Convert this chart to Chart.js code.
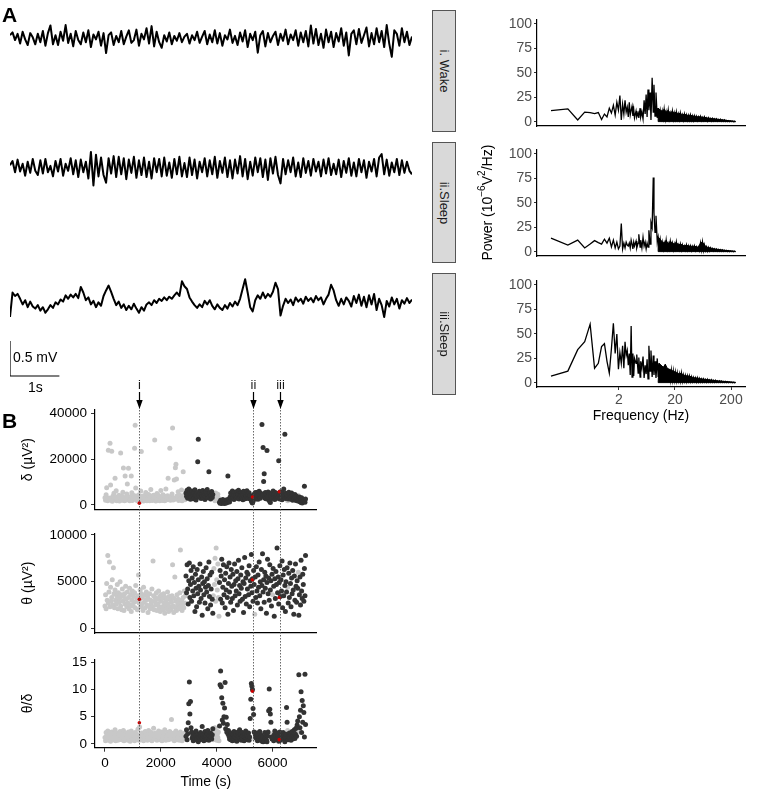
<!DOCTYPE html>
<html><head><meta charset="utf-8">
<script src="https://cdn.jsdelivr.net/npm/chart.js@4.4.1/dist/chart.umd.min.js"></script>
<style>
html,body{margin:0;padding:0;background:#fff;}
#root{position:relative;width:775px;height:791px;overflow:hidden;font-family:'Liberation Sans',Arial,Helvetica,sans-serif;color:#000;}
canvas{position:absolute;}
.lbl{position:absolute;white-space:nowrap;line-height:1;}
.strip{position:absolute;background:#d9d9d9;border:1px solid #555;box-sizing:border-box;}
.strip span{position:absolute;left:50%;top:50%;transform:translate(-50%,-50%) rotate(90deg);font-size:13px;color:#1a1a1a;white-space:nowrap;line-height:1;}
</style></head><body><div id="root"></div>
<script>
// ---------------- DATA ----------------
// EEG traces (µV), 160 decimated samples over ~8.2 s
const TRACE_DT = 0.0512; // s per sample
const traceWake = [40,80,-30,60,-80,90,-20,-100,70,10,
-90,60,-60,100,-110,70,180,-90,40,-100,
90,-40,185,-70,60,-120,100,-30,-90,80,
-60,110,-130,50,-20,90,-110,70,-215,40,
80,-100,30,-60,100,-90,20,110,-70,-30,
120,-110,60,-20,140,-80,170,-120,90,-60,
-140,40,-50,80,-90,30,-40,70,-60,20,
60,-80,40,-30,90,-70,20,100,-90,50,
-60,110,-80,70,-110,40,-20,120,-70,30,
-100,80,-50,110,-130,60,-30,90,-210,40,
100,-120,70,-60,30,90,-100,60,-40,120,
-90,50,-30,110,-110,80,-60,100,-120,180,
-80,130,-100,60,-140,120,-60,90,-130,70,
-50,140,-110,80,-250,60,110,-90,130,-70,
40,150,-120,70,-90,140,-60,100,-130,185,
-80,-270,110,60,-110,140,-60,90,-100,20];
const traceSleep2 = [40,100,-60,120,-50,60,-110,90,-70,130,
-40,-100,110,-80,130,-60,30,-120,100,-50,
130,-110,60,-40,140,-90,110,-130,120,-60,
90,-150,230,-250,190,-120,150,-100,-210,140,
-80,170,-130,160,-90,140,-160,120,-70,160,
-140,110,-100,150,-130,90,-150,140,-60,130,
-120,150,-110,80,-140,130,-90,160,-120,70,
-130,150,-100,120,-150,90,-60,140,-120,110,
-90,160,-140,100,-70,150,-130,110,-150,120,
-80,170,-120,130,-160,90,-110,150,-60,140,
-130,120,-170,140,-80,160,-100,-220,130,-90,
110,-60,150,-120,80,-130,140,-70,100,-110,
130,-50,90,-120,120,-80,140,-100,60,-90,
120,-130,100,-70,140,-110,80,-120,130,-60,
110,-140,90,-50,130,-120,150,200,-90,120,
-110,80,-60,130,-100,110,-70,90,-40,-90];
const traceSleep3 = [-200,150,100,130,60,-20,40,-60,20,-50,
-80,-30,-110,-60,-140,-90,-30,-70,10,-20,
50,20,110,60,120,80,130,70,230,150,
40,80,-20,30,-60,10,-40,100,180,250,
160,60,-30,20,-70,-20,-100,-40,-90,-10,
-80,-140,-60,-110,-20,10,-30,40,0,60,
30,80,40,90,60,110,150,100,310,240,
200,80,20,-30,-70,-20,-60,30,-20,40,
-40,-90,-20,-70,-100,-30,-80,0,-50,20,
-30,60,200,340,150,-60,-120,40,110,60,
150,70,130,90,160,290,200,-180,-40,60,
0,50,-30,80,20,60,-10,90,30,70,
10,100,40,80,-20,60,120,260,180,40,
-40,60,-20,80,30,-50,100,0,120,-40,
90,-60,110,-20,130,-100,60,-30,-200,30,
-50,80,-20,60,-80,40,-10,70,0,50];
const scaleBarMv = 0.5, scaleBarS = 1;
const stripLabels = ['i. Wake','ii.Sleep','iii.Sleep'];

// Power spectra: FFT bins (resolution FREQ_RES Hz) and power (10^-6 V^2/Hz)
const FREQ_RES = 0.1221;
const freqBins = [1,2,3,4,5,6,7,8,9,10,11,12,13,14,15,16,17,18,19,20,21,22,23,24,
25,26,27,28,29,30,31,33,34,36,37,39,40,42,44,46,48,50,52,54,
56,59,61,64,67,69,72,75,79,82,85,89,93,97,101,105,110,114,119,124,
129,135,141,147,153,159,166,173,180,188,196,204,213,222,231,241,251,262,273,284,
296,309,322,335,349,364,380,396,412,430,448,467,486,507,528,550,573,598,623,649,
676,705,734,765,797,831,866,902,940,980,1021,1064,1108,1155,1203,1254,1307,1361,1419,1478,
1540,1605,1672,1742,1815,1891,1971];
const powerWake = [11.5,13.3,2,10,9.5,8.5,9.5,2.5,8,5,14,9,17,7,20,12,27,2,18,8,22,10,15,5,
20,7,12,16,6,13,4,11,5,9,
4,14,5,10,3,22,8,28,5,33,
12,30,2,45,10,38,6,30,4,14,
5,12,4,11,4,13,3,10,4,12,
3,9,4,11,3,9,3,10,3,8,
2.5,9,3,7,2,8,2.5,7,2,6.5,
2,7,2,6,1.5,6,2,5.5,1.5,5,
2,5.5,1.5,4.5,1.5,5,1.5,4,1,4,
1.5,3.5,1,3.5,1,3,1,3,0.8,2.5,
0.8,2.5,0.6,2,0.5,2,0.5,1.5,0.4,1.3,
0.3,1,0.3,0.8,0.2,0.6,0.3];
const powerSleep2 = [14,7,12,4,8,11.5,9.5,8,13,9,14,5,12,4,10,3,6,29,3,9,4,10,7,6,
9,4,12,8,3,10,6,11,4,9,
18,5,12,4,15,6,10,3,9,5,
22,8,30,25,76,40,20,37,10,15,
6,13,4,10,3,9,4,12,3,8,
3,11,4,9,2.5,8,3,10,3,7,
2.5,8,2,7,3,6,2,7,2,6,
2,6,1.5,5.5,2,6,1.5,5,2,5,
1.5,9,2,10,1.5,7,1.5,5,1,4.5,
1,4,1.5,3.5,1,3,1,2.8,0.8,2.5,
0.7,2.2,0.6,2,0.5,1.6,0.5,1.5,0.4,1.2,
0.3,1,0.3,0.8,0.2,0.7,0.3];
const powerSleep3 = [7,12,34,42,60,15,20,37,40,22,10,35,61,30,50,14,31,20,38,15,42,28,33,18,
30,8,58,6,30,7,25,20,29,10,
26,6,22,15,27,5,18,9,24,4,
38,12,33,6,28,8,22,5,25,6,
20,4,18,5,16,4,19,3,15,4,
14,3,13,3,12,3,11,2.5,10,2.5,
9,2,10,2,8,2,7.5,1.5,7,2,
7,1.5,6,1.5,5.5,1.5,5,1,5,1,
4.5,1,4,1,4,1,3.5,0.8,3.5,0.8,
3,0.8,3,0.7,2.5,0.6,2.5,0.6,2,0.5,
2,0.5,1.8,0.4,1.5,0.4,1.5,0.3,1.2,0.3,
1,0.3,0.8,0.2,0.7,0.2,0.5];
const denseFromBin = 82; // above ~10 Hz the FFT bins are so dense that the trace merges into a solid band
const freqTicks = [2,20,200];
const powerTicks = [0,25,50,75,100];

// Panel B: 20-s epochs (index i -> time i*EPOCH_S)
const EPOCH_S = 20;
const wakeRanges = [[0,144],[194,204],[268,268],[300,300],[327,327],[346,346]];
const deltaPower = [3200,2100,4500,7500,2600,1800,23900,3100,2400,26900,
8700,2900,23500,1600,3800,2200,5100,2700,11700,3300,
6200,1900,2800,3600,2300,4200,1700,3000,22700,2500,
3900,2100,5600,16100,2600,1800,12600,3400,2200,4800,
9200,2700,16000,3100,1900,3600,2400,12600,5300,2000,
3300,2800,4100,24800,34800,7400,2300,3700,1800,2900,
4400,2600,1500,3200,6100,23300,2100,3800,2500,1700,
4000,2900,2200,5500,3100,1900,3500,2700,4600,2300,
1800,3300,6800,2600,3900,2000,3000,4300,2400,28300,
3200,1700,2800,5000,3600,2200,4100,2500,1900,3400,
6300,2700,3100,2000,4500,2600,3800,1800,2900,7000,
3500,2300,4000,11700,2800,3300,24800,2100,3700,2600,
4800,33600,2200,3100,10900,2500,16200,17800,11300,3900,
2700,5800,2000,3400,4200,2400,3000,6500,1900,3600,
14500,2800,4400,2300,3200,
5200,3800,6400,2900,4600,7000,3400,5800,2500,4300,
6100,3600,4900,2700,5500,3100,6600,4000,2200,5000,
3700,18900,28700,4400,6000,3300,5300,2800,4700,3900,
6300,3000,5100,4200,2400,5700,3500,4800,6800,3200,
4500,14500,3800,5400,2600,4100,5900,3300,4600,
2600,4300,3400,1900,5200,2800,3700,2200,4700,3100,2500,
1200,800,2100,1500,600,1800,2400,1000,1400,700,2000,1600,900,2300,1100,12700,1700,2600,1300,
3500,5200,2800,4600,6100,3100,4900,2400,5600,3800,
4200,2900,5900,3300,4700,6400,2600,5000,3600,4400,
5500,3000,4800,2300,6000,3400,5200,2700,4500,3900,
6200,3200,4600,2800,5300,3700,4100,2500,1800,1200,
900,1500,3900,4700,3100,5500,2600,
4800,3300,5600,2500,4200,6000,3600,2900,5100,3800,
35100,4400,25100,10200,13600,3000,5400,2700,4600,23800,
3500,5700,2200,4900,1500,1100,3900,5200,2800,4300,
6100,3200,4700,2400,5500,3600,4100,2900,5000,3400,
19300,4500,2600,5800,3100,4800,2300,5300,3700,7000,
4200,30900,2800,5100,3500,4400,1800,2600,5600,3000,
4700,3300,2500,5200,3900,2100,4300,3100,2700,4600,
3400,2000,3800,2900,1700,4100,2400,3500,1400,2800,
1100,3200,900,2200,1500,1900,8200,1200,2600];
const thetaPower = [2400,3600,2100,4800,3000,7800,2700,3900,7100,2300,
4400,2900,3300,5200,2500,6500,3700,2200,4100,3000,
2600,3500,4700,2100,3800,2800,3200,5000,2400,3600,
2000,4200,2900,3400,1900,3700,2600,4500,3100,2300,
3900,2700,3300,2100,4300,2500,3600,1800,3000,4000,
2400,3400,2800,3800,2200,4600,2900,3200,2000,3500,
5700,2700,3100,4100,2300,3700,2600,3300,1900,4400,
2800,3600,2200,3000,3900,2500,3400,1700,3100,2400,
3700,2100,3000,2700,4200,2300,7200,3500,2000,2900,
3300,2500,3800,1900,3100,2600,4000,2200,3400,1800,
2900,3600,2300,3200,2000,3700,2700,1600,3300,2400,
3000,2100,3900,2600,1800,3400,2300,3100,2000,2800,
3500,6800,2400,1700,3200,5500,2200,2900,1900,3600,
2500,3100,2100,2700,3800,8400,2300,3000,1900,2600,
3300,2200,4000,2700,3500,
5600,3800,6800,4200,2600,5100,7000,3300,4700,6200,
2900,5400,4000,6600,3500,4900,1800,5800,4300,2300,
6300,3700,5200,4500,2800,6900,4100,3200,5500,1400,
4800,6100,3600,5000,2700,4400,6500,3900,5300,2100,
4600,7100,3400,5700,2500,4200,6000,3100,1600,
3500,6400,4700,7500,2900,8600,5200,4100,6900,3300,1300,
4900,6200,3100,5600,7400,2700,4400,6800,3600,5200,
2200,5900,4100,6600,3300,1500,4800,7000,3900,5500,
2800,6300,4500,3200,5800,1900,4700,6900,3500,5100,
4000,6100,2500,5300,7300,3700,4600,2900,5700,4300,
6500,3100,5000,1700,4800,7600,3400,5400,2600,6000,
4200,5800,3600,6700,2300,5100,4500,7900,3800,5300,
2900,6200,4700,1500,5500,3300,6600,4000,2700,5700,
4400,7100,3500,5000,2100,6300,4600,8000,3900,5200,
2800,6000,4300,5600,1600,4900,7400,3700,5400,3000,
6800,4100,5100,2400,5800,3600,6400,4500,1300,5300,
3200,6100,4700,8600,3800,5500,2600,4900,6700,3400,
5200,4000,7200,2200,5700,3500,6300,4600,1800,5000,
3900,6500,4400,2700,5900,3300,7000,4800,2300,5400,
3700,6200,4100,1500,5600,3000,6900,4500,2800,5100,
4300,6000,1400,3600,5500,2500,7300,4000,3200,5800,
4700,2900,6400,3500,7800];
const thetaDeltaRatio = [1.2,0.6,2.1,1.5,0.9,2.4,1.3,0.7,1.8,1.1,
0.5,1.6,2.2,1.0,1.4,0.8,1.9,1.2,2.6,0.6,
1.5,1.1,2.0,0.7,1.3,1.7,0.9,2.3,1.0,1.4,
0.8,1.8,1.2,2.5,0.6,1.5,1.1,2.0,0.9,1.6,
1.3,0.7,2.2,1.0,1.7,0.5,1.4,2.4,1.2,0.8,
1.9,1.1,1.5,0.6,2.1,1.3,0.9,1.8,1.0,2.7,
1.4,0.7,3.1,1.2,1.6,0.8,2.0,1.1,1.5,0.6,
1.8,1.3,2.3,0.9,1.4,1.9,0.7,1.2,2.5,1.0,
1.6,0.8,1.3,2.1,0.6,1.7,1.1,2.9,1.4,0.9,
2.0,1.2,1.5,0.7,1.8,1.0,2.4,1.3,0.8,1.6,
1.1,2.2,0.6,1.4,1.9,0.9,1.5,2.6,1.2,0.7,
1.7,1.0,2.1,1.3,0.8,1.6,2.3,1.1,1.4,4.5,
0.9,1.8,1.2,2.0,0.6,1.5,1.0,2.4,1.3,0.8,
1.6,1.1,1.9,0.7,1.4,2.2,1.0,1.5,0.6,1.3,
1.8,0.9,1.2,2.0,1.1,
1.4,2.6,0.8,1.9,3.9,7.4,11.4,5.5,7.8,3.0,
2.2,1.1,1.7,0.6,1.3,2.0,0.9,1.5,2.4,1.0,
0.7,1.6,0.4,1.2,1.8,0.8,2.1,1.4,0.9,3.2,
1.1,1.7,0.6,1.3,2.3,1.0,1.5,0.8,1.9,2.5,
1.2,0.7,1.6,1.0,2.0,1.3,0.9,1.7,2.8,
0.8,2.1,1.4,3.0,1.1,2.5,0.7,1.8,1.2,2.2,0.6,
3.3,10.9,13.4,10.5,8.5,4.4,7.5,3.8,5.0,6.6,
11.3,2.8,4.9,2.2,3.6,1.9,2.5,1.4,0.9,
1.5,0.8,2.0,1.2,0.6,1.7,1.0,2.3,1.3,0.7,
1.9,1.1,0.5,1.6,2.2,0.9,1.4,2.6,1.0,1.8,
0.7,1.3,2.1,0.9,1.5,0.6,1.9,1.2,2.4,1.0,
1.6,0.8,1.4,2.0,0.7,1.3,4.7,8.2,11.1,10.6,
10.0,6.5,5.4,2.2,0.9,1.7,1.2,
1.1,2.0,0.6,1.4,1.8,0.9,2.3,1.2,0.7,1.6,
0.5,1.3,0.4,0.6,0.5,2.1,1.0,1.7,0.8,0.4,
1.5,2.2,6.1,10.1,6.4,5.5,4.0,1.3,0.9,1.9,
1.2,0.6,1.7,2.4,1.0,1.4,0.8,2.0,1.3,1.6,
0.5,1.1,2.2,0.7,1.5,1.9,0.9,1.3,2.1,1.0,
1.6,0.4,1.2,1.8,6.7,4.0,2.5,0.8,1.4,2.0,
1.1,1.7,0.7,1.3,2.3,0.9,1.5,1.2,2.6,1.0,
1.8,2.9,1.4,3.5,4.2,2.2,12.7,5.0,3.0,6.2,
9.6,2.1,8.0,4.0,7.0,5.8,1.3,12.8,3.6];
// marked epochs i, ii, iii
const markTimes = [1230, 5280, 6240];
const markLabels = ['i','ii','iii'];
const markDelta = [800, 3500, 5800];
const markTheta = [3100, 5200, 3300];
const markRatio = [3.9, 9.7, 0.8];
const timeTicks = [0,2000,4000,6000];
const deltaTicks = [0,20000,40000];
const thetaTicks = [0,5000,10000];
const ratioTicks = [0,5,10,15];

// ---------------- RENDER ----------------
const FONT = "'Liberation Sans', Arial, Helvetica, sans-serif";
Chart.defaults.font.family = FONT;
Chart.defaults.font.size = 13;
Chart.defaults.animation = false;
Chart.defaults.events = [];
Chart.defaults.plugins.legend.display = false;
Chart.defaults.plugins.tooltip.enabled = false;

const root = document.getElementById('root');
function mkCanvas(l,t,w,h){
  const c=document.createElement('canvas');
  c.width=w; c.height=h;
  c.style.left=l+'px'; c.style.top=t+'px'; c.style.width=w+'px'; c.style.height=h+'px';
  root.appendChild(c); return c;
}
function addLabel(text, l, t, css){
  const d=document.createElement('div'); d.className='lbl'; d.textContent=text;
  d.style.left=l+'px'; d.style.top=t+'px'; Object.assign(d.style, css||{});
  root.appendChild(d); return d;
}

// --- traces ---
const TRACE_HALF = 515; // µV visible above/below centre
const traceMaxT = (traceWake.length-1)*TRACE_DT;
function traceChart(vals, centerY){
  const c = mkCanvas(5, centerY-36, 412, 72);
  new Chart(c,{type:'line',
    data:{datasets:[{data:vals.map((v,i)=>({x:i*TRACE_DT,y:v})),borderColor:'#000',borderWidth:2,pointRadius:0,tension:0,borderJoinStyle:'round'}]},
    options:{responsive:false,layout:{padding:{left:5,right:5,top:0,bottom:0}},
      scales:{x:{type:'linear',display:false,min:0,max:traceMaxT},y:{display:false,min:-TRACE_HALF,max:TRACE_HALF}}}});
}
traceChart(traceWake, 37.6);
traceChart(traceSleep2, 168.3);
traceChart(traceSleep3, 303.3);

// scale bar (same µV/px and s/px as traces)
(function(){
  const c = mkCanvas(5, 330, 412, 56);
  const uvPerPx = 2*TRACE_HALF/72;
  new Chart(c,{type:'line',
    data:{datasets:[{data:[{x:0,y:scaleBarMv*1000},{x:0,y:0},{x:scaleBarS,y:0}],borderColor:'#000',borderWidth:1.2,pointRadius:0,tension:0}]},
    options:{responsive:false,layout:{padding:{left:5,right:5,top:0,bottom:0}},
      scales:{x:{type:'linear',display:false,min:0,max:traceMaxT},y:{display:false,min:-10*uvPerPx,max:46*uvPerPx}}}});
})();
addLabel('0.5 mV', 13, 350, {fontSize:'14px'});
addLabel('1s', 28, 380, {fontSize:'14px'});

// panel labels
addLabel('A', 2, 4, {fontSize:'21px',fontWeight:'bold'});
addLabel('B', 2, 410, {fontSize:'21px',fontWeight:'bold'});

// strips
[10, 141.7, 273.4].forEach((top,k)=>{
  const s=document.createElement('div'); s.className='strip';
  s.style.left='432px'; s.style.top=top+'px'; s.style.width='23.5px'; s.style.height='121.7px';
  const sp=document.createElement('span'); sp.textContent=stripLabels[k]; s.appendChild(sp);
  root.appendChild(s);
});

// --- spectra ---
const richYTitle = {
  id:'richYTitle',
  afterDraw(chart, args, o){
    if(!o || !o.segments) return;
    const ctx=chart.ctx, ca=chart.chartArea, fs=o.size, sfs=fs*0.72;
    ctx.save();
    let total=0;
    const parts=o.segments.map(s=>{ctx.font=(s.sup?sfs:fs)+'px '+FONT; const w=ctx.measureText(s.t).width; total+=w; return {t:s.t,sup:s.sup,w:w};});
    ctx.translate(o.x,(ca.top+ca.bottom)/2);
    ctx.rotate(-Math.PI/2);
    ctx.fillStyle=o.color; ctx.textBaseline='middle'; ctx.textAlign='left';
    let x=-total/2;
    parts.forEach(p=>{ctx.font=(p.sup?sfs:fs)+'px '+FONT; ctx.fillText(p.t,x,p.sup?-fs*0.4:0); x+=p.w;});
    ctx.restore();
  }
};
// the dense high-frequency bins merge into a solid band: shade under their peak envelope
const bandPlugin = {
  id:'denseBand',
  afterDatasetsDraw(chart){
    const ds=chart.data.datasets[0].data, xs=chart.scales.x, ys=chart.scales.y, ctx=chart.ctx, ca=chart.chartArea;
    const start=freqBins.indexOf(denseFromBin);
    const dense=ds.slice(start);
    const y0=ys.getPixelForValue(0.3);
    ctx.save();
    ctx.beginPath(); ctx.rect(ca.left,ca.top,ca.right-ca.left,ca.bottom-ca.top); ctx.clip();
    ctx.beginPath();
    ctx.moveTo(xs.getPixelForValue(dense[0].x), y0);
    dense.forEach((p,j)=>{
      const prev=j>0?dense[j-1].y:p.y, next=j<dense.length-1?dense[j+1].y:p.y;
      if(p.y>=prev && p.y>=next) ctx.lineTo(xs.getPixelForValue(p.x), ys.getPixelForValue(p.y));
    });
    ctx.lineTo(xs.getPixelForValue(dense[dense.length-1].x), ys.getPixelForValue(dense[dense.length-1].y));
    ctx.lineTo(xs.getPixelForValue(dense[dense.length-1].x), y0);
    ctx.closePath();
    ctx.fillStyle='#000'; ctx.fill();
    ctx.lineWidth=1; ctx.strokeStyle='#000'; ctx.lineJoin='round'; ctx.stroke();
    ctx.restore();
  }
};
function spectrum(power, T, ct, showX, rich){
  const cb = ct + 106.7;
  const H = Math.ceil(showX ? (cb + 37.7 - T) : (cb + 14 - T));
  const c = mkCanvas(470, T, 285, H);
  const pts = freqBins.map((k,j)=>({x:k*FREQ_RES,y:power[j]}));
  new Chart(c,{type:'line',
    data:{datasets:[{data:pts,borderColor:'#000',borderWidth:1.3,pointRadius:0,tension:0,fill:false}]},
    plugins: rich?[bandPlugin,richYTitle]:[bandPlugin],
    options:{responsive:false,
      layout:{padding:{left:10.2,right:10,top:ct-T,bottom:0}},
      plugins:{richYTitle: rich?{x:18,size:14,color:'#000',segments:[{t:'Power (10'},{t:'\u22126',sup:true},{t:'V'},{t:'2',sup:true},{t:'/Hz)'}]}:{}},
      scales:{
        x:{type:'logarithmic',min:0.0687,max:355.6,
          afterFit:a=>{a.height=T+H-cb;},
          afterBuildTicks:a=>{a.ticks=freqTicks.map(v=>({value:v}));},
          border:{display:true,color:'#000',width:1.2},
          grid:{display:true,drawOnChartArea:false,drawTicks:showX,tickLength:3,color:'#333'},
          ticks:{display:showX,color:'#4d4d4d',font:{size:14},padding:2,autoSkip:false,maxRotation:0,callback:v=>String(v)},
          title:{display:showX,text:'Frequency (Hz)',color:'#000',font:{size:14},padding:{top:0,bottom:0}}},
        y:{min:-4.2,max:104.8,
          afterFit:a=>{a.width=56.8;},
          afterBuildTicks:a=>{a.ticks=powerTicks.map(v=>({value:v}));},
          border:{display:true,color:'#000',width:1.2},
          grid:{display:true,drawOnChartArea:false,drawTicks:true,tickLength:3,color:'#333'},
          ticks:{color:'#4d4d4d',font:{size:14},padding:2,callback:v=>String(v)}}
      }}});
}
spectrum(powerWake, 2, 19.3, false, false);
spectrum(powerSleep2, 132, 149.3, false, true);
spectrum(powerSleep3, 263, 280.3, true, false);

// --- scatter panels ---
const isWake = deltaPower.map((v,i)=>wakeRanges.some(r=>i>=r[0]&&i<=r[1]));
const T_MIN=-358, T_MAX=7580;
function scatterPanel(vals, marked, p){
  const light=[], dark=[];
  vals.forEach((v,i)=>{const pt={x:i*EPOCH_S,y:v}; (isWake[i]?light:dark).push(pt);});
  const red = markTimes.map((t,k)=>({x:t,y:marked[k]}));
  const c = mkCanvas(0, p.T, 330, p.H);
  const PL=19.5;
  new Chart(c,{type:'scatter',
    data:{datasets:[
      {data:light,pointBackgroundColor:'#c8c8c8',pointBorderWidth:0,pointRadius:2.5,order:3},
      {data:dark,pointBackgroundColor:'#333333',pointBorderWidth:0,pointRadius:2.5,order:2},
      {data:red,pointBackgroundColor:'#cc0000',pointBorderWidth:0,pointRadius:1.8,order:1}]},
    options:{responsive:false,
      layout:{padding:{left:PL,right:13.3,top:p.ct-p.T,bottom:0}},
      scales:{
        x:{type:'linear',min:T_MIN,max:T_MAX,
          afterFit:a=>{a.height=p.T+p.H-p.cb;},
          afterBuildTicks:a=>{a.ticks=timeTicks.map(v=>({value:v}));},
          border:{display:true,color:'#000',width:1.2},
          grid:{display:true,drawOnChartArea:false,drawTicks:p.showX,tickLength:4,color:'#333'},
          ticks:{display:p.showX,color:'#000',font:{size:13.5},padding:3,autoSkip:false,maxRotation:0,callback:v=>String(v)},
          title:{display:p.showX,text:'Time (s)',color:'#000',font:{size:14},padding:{top:0,bottom:0}}},
        y:{min:p.min,max:p.max,
          afterFit:a=>{a.width=95-PL;},
          afterBuildTicks:a=>{a.ticks=p.ticks.map(v=>({value:v}));},
          border:{display:true,color:'#000',width:1.2},
          grid:{display:true,drawOnChartArea:false,drawTicks:true,tickLength:4,color:'#333'},
          ticks:{color:'#000',font:{size:13.5},padding:4,callback:v=>String(v)},
          title:{display:true,text:p.title,color:'#000',font:{size:14},padding:{top:0,bottom:0}}}
      }}});
}
scatterPanel(deltaPower, markDelta, {T:395,H:130,ct:410,cb:509.3,min:-1876,max:41440,ticks:deltaTicks,title:'\u03b4 (\u00b5V\u00b2)',showX:false});
scatterPanel(thetaPower, markTheta, {T:515,H:133,ct:533.3,cb:633,min:-504,max:10182,ticks:thetaTicks,title:'\u03b8 (\u00b5V\u00b2)',showX:false});
scatterPanel(thetaDeltaRatio, markRatio, {T:642,H:149,ct:659.3,cb:747.7,min:-0.68,max:15.55,ticks:ratioTicks,title:'\u03b8/\u03b4',showX:true});

// --- overlay: arrows + dotted lines at marked epochs ---
(function(){
  const OT=372;
  const c = mkCanvas(90, OT, 232, 380);
  const markerPlugin = {id:'markers', afterDraw(chart){
    const ctx=chart.ctx, xs=chart.scales.x;
    ctx.save();
    markTimes.forEach((t,k)=>{
      const x=Math.round(xs.getPixelForValue(t))+0.5;
      ctx.fillStyle='#1a1a1a'; ctx.font='13px '+FONT; ctx.textAlign='center'; ctx.textBaseline='middle';
      ctx.fillText(markLabels[k], x, 385-OT);
      ctx.strokeStyle='#444'; ctx.lineWidth=0.8; ctx.setLineDash([1.5,1.5]);
      ctx.beginPath(); ctx.moveTo(x,392-OT); ctx.lineTo(x,748-OT); ctx.stroke();
      ctx.setLineDash([]);
      ctx.strokeStyle='#000'; ctx.lineWidth=1.2;
      ctx.beginPath(); ctx.moveTo(x,392-OT); ctx.lineTo(x,402-OT); ctx.stroke();
      ctx.fillStyle='#000'; ctx.beginPath(); ctx.moveTo(x-3.2,400-OT); ctx.lineTo(x+3.2,400-OT); ctx.lineTo(x,409-OT); ctx.closePath(); ctx.fill();
    });
    ctx.restore();
  }};
  new Chart(c,{type:'scatter',data:{datasets:[{data:[]}]},plugins:[markerPlugin],
    options:{responsive:false,layout:{padding:{left:5,right:5,top:0,bottom:0}},
      scales:{x:{type:'linear',display:false,min:T_MIN,max:T_MAX},y:{display:false,min:0,max:1}}}});
})();
</script></body></html>
